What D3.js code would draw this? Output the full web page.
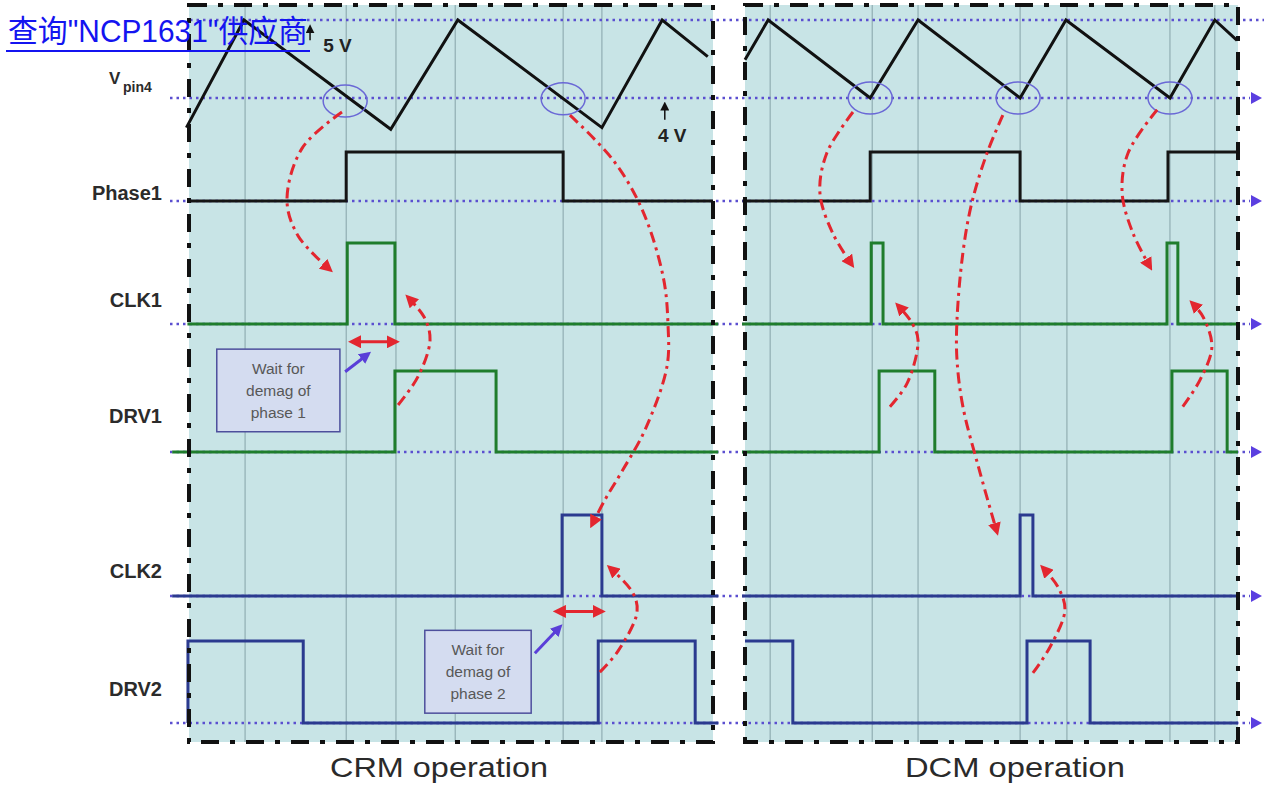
<!DOCTYPE html>
<html lang="en">
<head>
<meta charset="UTF-8">
<title>NCP1631 CRM / DCM timing</title>
<script src="https://d3js.org/d3.v7.min.js"></script>
<style>
  body { margin: 0; background: #fff; }
  svg { display: block; font-family: "Liberation Sans", Arial, sans-serif; }
</style>
</head>
<body>
<div id="chart"></div>
<script>
// ---------- data (time in arbitrary units 0..100 per panel) ----------
const laneNames = ["vpin", "phase1", "clk1", "drv1", "clk2", "drv2"];
const laneLabels = ["V", "Phase1", "CLK1", "DRV1", "CLK2", "DRV2"];

const crmGrid = [10.7, 30.0, 39.5, 50.8, 71.4, 78.8];
const dcmGrid = [5.1, 25.8, 35.1, 55.8, 65.3, 86.2, 95.3];

// Vpin4 ramp vertices
const crmRampT = [-0.5, 10.5, 38.5, 51.3, 78.8, 90.3, 99.0];
const crmRampV = [3.62, 5.0, 3.6, 5.0, 3.62, 5.0, 4.53];
const dcmRampT = [0, 4.7, 25.4, 35.1, 55.8, 65.1, 86.2, 95.3, 99.8];
const dcmRampV = [4.49, 5.0, 4.0, 5.0, 4.0, 5.0, 4.0, 5.0, 4.74];

// logic signals: level at start, then toggle instants
const crmInit = [0, 0, 0, 0, 0];
const crmStartT = [0, -0.3, -3.2, -3.2, -0.2];
const crmEndT = [100, 101, 101, 101, 101];
const crmPhase1 = [30.0, 71.4];
const crmClk1 = [30.2, 39.3];
const crmDrv1 = [39.3, 58.6];
const crmClk2 = [71.2, 78.8];
const crmDrv2 = [-0.2, 21.8, 78.1, 96.6];

const dcmInit = [0, 0, 0, 0, 1];
const dcmStartT = [-0.5, -0.6, -0.6, -0.6, 0];
const dcmEndT = [100, 100, 100, 100, 100];
const dcmPhase1 = [25.4, 55.8, 85.8];
const dcmClk1 = [25.6, 28.0, 85.6, 87.8];
const dcmDrv1 = [27.2, 38.5, 86.6, 97.8];
const dcmClk2 = [55.8, 58.4];
const dcmDrv2 = [9.7, 57.2, 70.0];

// valley detection circles [t, volts]
const crmValleys = [[29.8, 3.96], [71.4, 3.99]];
const dcmValleys = [[25.4, 4.0], [55.4, 4.0], [86.2, 4.0]];

// red dash-dot cause/effect arrows, points [t, lane, level]
const crmRed = [
  [[29.2, "vpin", 3.82], [21.6, "phase1", 1.08], [18.7, "phase1", 0.02], [20.8, "clk1", 1.09], [26.9, "clk1", 0.67]],
  [[39.9, "drv1", 0.58], [43.7, "drv1", 0.93], [46.0, "clk1", -0.20], [45.0, "clk1", 0.07], [41.8, "clk1", 0.33]],
  [[72.7, "vpin", 3.78], [80.9, "phase1", 0.84], [86.5, "phase1", -0.18], [90.5, "clk1", 0.58], [91.4, "clk1", 0.01],
   [91.2, "drv1", 1.05], [87.0, "drv1", 0.27], [82.8, "drv1", -0.22], [79.4, "clk2", 1.19], [76.9, "clk2", 0.88]],
  [[78.4, "drv2", 0.62], [81.9, "drv2", 0.88], [85.5, "clk2", -0.20], [84.7, "clk2", 0.04], [80.3, "clk2", 0.35]]
];
const dcmRed = [
  [[21.9, "vpin", 3.82], [16.6, "phase1", 0.98], [15.2, "phase1", 0.16], [17.8, "clk1", 1.12], [21.7, "clk1", 0.73]],
  [[29.4, "drv1", 0.56], [32.9, "drv1", 0.85], [35.1, "clk1", -0.20], [33.9, "clk1", 0.01], [31.0, "clk1", 0.23]],
  [[52.3, "vpin", 3.78], [49.1, "phase1", 0.98], [46.0, "phase1", -0.04], [44.2, "clk1", 0.88], [43.0, "clk1", 0.05],
   [43.0, "drv1", 1.14], [44.2, "drv1", 0.56], [47.7, "drv1", -0.26], [51.1, "clk2", 0.79]],
  [[58.4, "drv2", 0.61], [61.9, "drv2", 0.93], [64.9, "clk2", -0.17], [63.5, "clk2", 0.11], [60.4, "clk2", 0.35]],
  [[83.6, "vpin", 3.85], [77.7, "phase1", 0.98], [76.5, "phase1", 0.16], [78.7, "clk1", 1.12], [82.2, "clk1", 0.70]],
  [[88.8, "drv1", 0.56], [92.3, "drv1", 0.89], [94.7, "clk1", -0.28], [92.9, "clk1", 0.09], [90.7, "clk1", 0.26]]
];

// demag wait: [tFrom, tTo, lane, level]
const crmWaits = [[31.1, 39.5, "clk1", -0.22], [70.2, 78.8, "clk2", -0.19]];
// note boxes: [t0, t1, lane, levelTop, levelBottom]
const crmNotes = [[5.3, 28.8, "drv1", 1.27, 0.25], [45.0, 65.3, "drv2", 1.13, 0.12]];
const noteTexts = [["Wait for", "demag of", "phase 1"], ["Wait for", "demag of", "phase 2"]];
const crmPointers = [
  [[29.8, "drv1", 0.99], [34.2, "clk1", -0.37]],
  [[66.0, "drv2", 0.85], [70.8, "clk2", -0.38]]
];

// ---------- layout ----------
const W = 1264, H = 785;
const panelTop = 5, panelBottom = 742;
const bg = "#c8e4e6";
const laneColor = { phase1: "#151515", clk1: "#1f7d2c", drv1: "#1f7d2c", clk2: "#2b3a8f", drv2: "#2b3a8f" };

const svg = d3.select("#chart").append("svg")
  .attr("width", W).attr("height", H);

const defs = svg.append("defs");
function marker(id, color, size) {
  defs.append("marker")
    .attr("id", id)
    .attr("viewBox", "0 0 10 10")
    .attr("refX", 7).attr("refY", 5)
    .attr("markerUnits", "userSpaceOnUse")
    .attr("markerWidth", size).attr("markerHeight", size)
    .attr("orient", "auto-start-reverse")
    .append("path")
    .attr("d", "M0,0 L10,5 L0,10 z")
    .attr("fill", color);
}
marker("redHead", "#e3262f", 13);
marker("purpleHead", "#5a3fd8", 12);
marker("blackHead", "#111", 9);

const y = {
  vpin: d3.scaleLinear().domain([4, 5]).range([98, 20]),
  phase1: d3.scaleLinear().domain([0, 1]).range([201, 152]),
  clk1: d3.scaleLinear().domain([0, 1]).range([324, 243]),
  drv1: d3.scaleLinear().domain([0, 1]).range([452, 371]),
  clk2: d3.scaleLinear().domain([0, 1]).range([596, 515]),
  drv2: d3.scaleLinear().domain([0, 1]).range([723, 641])
};

const panels = [
  {
    x: d3.scaleLinear().domain([0, 100]).range([189, 713]),
    title: "CRM operation", titleX: 439, titleW: 218,
    grid: crmGrid, rampT: crmRampT, rampV: crmRampV,
    init: crmInit, startT: crmStartT, endT: crmEndT,
    edges: [crmPhase1, crmClk1, crmDrv1, crmClk2, crmDrv2],
    valleys: crmValleys, red: crmRed
  },
  {
    x: d3.scaleLinear().domain([0, 100]).range([745, 1238]),
    title: "DCM operation", titleX: 1015, titleW: 220,
    grid: dcmGrid, rampT: dcmRampT, rampV: dcmRampV,
    init: dcmInit, startT: dcmStartT, endT: dcmEndT,
    edges: [dcmPhase1, dcmClk1, dcmDrv1, dcmClk2, dcmDrv2],
    valleys: dcmValleys, red: dcmRed
  }
];

// panel backgrounds and grid
panels.forEach(p => {
  svg.append("rect")
    .attr("x", p.x(0)).attr("y", panelTop)
    .attr("width", p.x(100) - p.x(0)).attr("height", panelBottom - panelTop)
    .attr("fill", bg);
  svg.append("g").selectAll("line")
    .data(p.grid).join("line")
    .attr("x1", d => p.x(d)).attr("x2", d => p.x(d))
    .attr("y1", panelTop).attr("y2", panelBottom)
    .attr("stroke", "#86a3a9").attr("stroke-width", 1);
});

// dotted reference levels
const dotted = svg.append("g")
  .attr("stroke", "#5b4fd0").attr("stroke-width", 2.6)
  .attr("stroke-dasharray", "2.5,4");
dotted.append("line")
  .attr("x1", 190).attr("x2", W).attr("y1", y.vpin(5)).attr("y2", y.vpin(5));
const refYs = laneNames.map(n => y[n](n === "vpin" ? 4 : 0));
dotted.selectAll(".ref").data(refYs).join("line")
  .attr("class", "ref")
  .attr("x1", 170).attr("x2", 1250)
  .attr("y1", d => d).attr("y2", d => d);
svg.append("g").selectAll("path").data(refYs).join("path")
  .attr("d", d => `M1251,${d - 6} L1262,${d} L1251,${d + 6} z`)
  .attr("fill", "#5b3fe0");

// signals
const line = d3.line().x(d => d[0]).y(d => d[1]);
panels.forEach(p => {
  svg.append("path")
    .attr("d", line(p.rampT.map((t, i) => [p.x(t), y.vpin(p.rampV[i])])))
    .attr("fill", "none").attr("stroke", "#111").attr("stroke-width", 3)
    .attr("stroke-linejoin", "miter");

  p.edges.forEach((edges, i) => {
    const name = laneNames[i + 1];
    let lv = p.init[i];
    const pts = [[p.startT[i], lv]];
    edges.forEach(e => { pts.push([e, lv]); lv = 1 - lv; pts.push([e, lv]); });
    pts.push([p.endT[i], lv]);
    svg.append("path")
      .attr("d", line(pts.map(d => [p.x(d[0]), y[name](d[1])])))
      .attr("fill", "none").attr("stroke", laneColor[name])
      .attr("stroke-width", 3);
  });

  svg.append("g").selectAll("ellipse").data(p.valleys).join("ellipse")
    .attr("cx", d => p.x(d[0])).attr("cy", d => y.vpin(d[1]))
    .attr("rx", 22).attr("ry", 16)
    .attr("fill", "none").attr("stroke", "#6a68d6").attr("stroke-width", 1.5);
});

// panel borders (dash-dot)
panels.forEach(p => {
  svg.append("rect")
    .attr("x", p.x(0)).attr("y", panelTop)
    .attr("width", p.x(100) - p.x(0)).attr("height", panelBottom - panelTop)
    .attr("fill", "none").attr("stroke", "#111").attr("stroke-width", 4)
    .attr("stroke-dasharray", "18,11,5,11");
  svg.append("text")
    .attr("x", p.titleX).attr("y", 777)
    .attr("text-anchor", "middle")
    .attr("font-size", 28).attr("fill", "#2a2a2a")
    .attr("textLength", p.titleW).attr("lengthAdjust", "spacingAndGlyphs")
    .text(p.title);
});

// lane labels
const labelY = [84, 200, 307, 423, 578, 696];
svg.append("g").selectAll("text").data(laneLabels.slice(1)).join("text")
  .attr("x", 162).attr("y", (d, i) => labelY[i + 1])
  .attr("text-anchor", "end")
  .attr("font-size", 20).attr("font-weight", "bold").attr("fill", "#2b2b2b")
  .text(d => d);
svg.append("text").attr("x", 109).attr("y", labelY[0])
  .attr("font-size", 17).attr("font-weight", "bold").attr("fill", "#2b2b2b")
  .text(laneLabels[0]);
svg.append("text").attr("x", 123).attr("y", 92)
  .attr("font-size", 14).attr("font-weight", "bold").attr("fill", "#2b2b2b")
  .text("pin4");

// note boxes, pointers and demag arrows (CRM panel)
const crm = panels[0];
const P = d => [crm.x(d[0]), y[d[1]](d[2])];
crmNotes.forEach((n, i) => {
  const x0 = crm.x(n[0]), x1 = crm.x(n[1]);
  const y0 = y[n[2]](n[3]), y1 = y[n[2]](n[4]);
  svg.append("rect")
    .attr("x", x0).attr("y", y0).attr("width", x1 - x0).attr("height", y1 - y0)
    .attr("fill", "#d4dcf0").attr("stroke", "#4d4f9c").attr("stroke-width", 1.5);
  svg.append("g").selectAll("text").data(noteTexts[i]).join("text")
    .attr("x", (x0 + x1) / 2).attr("y", (d, k) => y0 + 25 + k * 22)
    .attr("text-anchor", "middle").attr("font-size", 15.5).attr("fill", "#585858")
    .text(d => d);
});
svg.append("g").selectAll("path").data(crmPointers).join("path")
  .attr("d", d => line(d.map(P)))
  .attr("stroke", "#5a3fd8").attr("stroke-width", 3).attr("fill", "none")
  .attr("marker-end", "url(#purpleHead)");
svg.append("g").selectAll("path").data(crmWaits).join("path")
  .attr("d", d => line([[crm.x(d[0]), y[d[2]](d[3])], [crm.x(d[1]), y[d[2]](d[3])]]))
  .attr("stroke", "#e3262f").attr("stroke-width", 3).attr("fill", "none")
  .attr("marker-start", "url(#redHead)").attr("marker-end", "url(#redHead)");

// voltage callouts
svg.append("path")
  .attr("d", line([[crm.x(23.1), y.vpin(4.74)], [crm.x(23.1), y.vpin(4.91)]]))
  .attr("stroke", "#111").attr("stroke-width", 1.5).attr("marker-end", "url(#blackHead)");
svg.append("path")
  .attr("d", line([[crm.x(90.8), y.vpin(3.72)], [crm.x(90.8), y.vpin(3.92)]]))
  .attr("stroke", "#111").attr("stroke-width", 1.5).attr("marker-end", "url(#blackHead)");
svg.append("text").attr("x", crm.x(25.6)).attr("y", y.vpin(4.59))
  .attr("font-size", 19).attr("font-weight", "bold").attr("fill", "#222").text("5 V");
svg.append("text").attr("x", crm.x(89.5)).attr("y", y.vpin(3.44))
  .attr("font-size", 19).attr("font-weight", "bold").attr("fill", "#222").text("4 V");

// red dash-dot cause arrows
const curve = d3.line().x(d => d[0]).y(d => d[1]).curve(d3.curveCatmullRom.alpha(0.5));
panels.forEach(p => {
  svg.append("g").selectAll("path").data(p.red).join("path")
    .attr("d", d => curve(d.map(q => [p.x(q[0]), y[q[1]](q[2])])))
    .attr("fill", "none").attr("stroke", "#e3262f").attr("stroke-width", 3)
    .attr("stroke-dasharray", "11,5,3,5")
    .attr("marker-end", "url(#redHead)");
});

// source link caption
svg.append("text")
  .attr("x", 8).attr("y", 42)
  .attr("font-family", "'Liberation Sans', 'Noto Sans CJK SC', sans-serif")
  .attr("font-size", 31).attr("fill", "#1414f0")
  .attr("textLength", 300).attr("lengthAdjust", "spacingAndGlyphs")
  .text("查询\"NCP1631\"供应商");
svg.append("line")
  .attr("x1", 6).attr("x2", 310).attr("y1", 51).attr("y2", 51)
  .attr("stroke", "#1414f0").attr("stroke-width", 2);
</script>
</body>
</html>
